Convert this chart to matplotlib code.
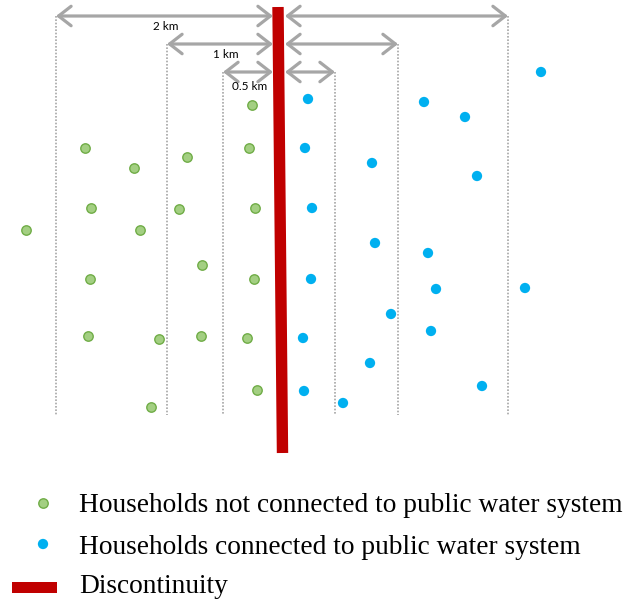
import matplotlib
matplotlib.use("Agg")
import matplotlib.pyplot as plt
from matplotlib.patches import FancyArrowPatch, Rectangle

# ---- data (schematic, in image pixel units) ----
band_labels = ["2 km", "1 km", "0.5 km"]
band_left_x = [56, 167, 223]
band_right_x = [508, 398, 335]
band_arrow_y = [16, 44, 72]
band_bottom_y = 415

cutoff_top = (278, 7)
cutoff_bottom = (282.5, 453)

green_x = [252, 85, 249, 134, 187, 91, 179, 255, 26, 140, 202, 90, 254, 88, 159, 201, 247, 257, 151]
green_y = [105, 148, 148, 168, 157, 208, 209, 208, 230, 230, 265, 279, 279, 336, 339, 336, 338, 390, 407]

blue_x = [541, 308, 424, 465, 305, 372, 477, 312, 375, 428, 311, 436, 525, 391, 431, 303, 370, 304, 482, 343]
blue_y = [72, 99, 102, 117, 148, 163, 176, 208, 243, 253, 279, 289, 288, 314, 331, 338, 363, 391, 386, 403]

legend_labels = ["Households not connected to public water system",
                 "Households connected to public water system",
                 "Discontinuity"]

GREEN_FACE = "#A3CF82"
GREEN_EDGE = "#70AD47"
BLUE = "#00B0F0"
RED = "#C00000"
GREY = "#A6A6A6"

fig = plt.figure(figsize=(6.26, 6.0), dpi=100)
ax = fig.add_axes([0, 0, 1, 1])
ax.set_xlim(0, 626)
ax.set_ylim(600, 0)
ax.axis("off")

mid_left = 273
mid_right = 285

# dotted boundaries
for xl, xr, yt in zip(band_left_x, band_right_x, band_arrow_y):
    for xv in (xl, xr):
        ax.plot([xv, xv], [yt, band_bottom_y], color=GREY, lw=1.2,
                linestyle=(0, (1, 1)), zorder=1)

# arrows
for xl, xr, yt, lab in zip(band_left_x, band_right_x, band_arrow_y, band_labels):
    for a, b in ((xl, mid_left), (mid_right, xr)):
        ar = FancyArrowPatch((a, yt), (b, yt),
                             arrowstyle="<->,head_length=0.9,head_width=0.7",
                             mutation_scale=10, color=GREY, lw=2.3,
                             shrinkA=0, shrinkB=0, zorder=2)
        ax.add_patch(ar)

label_pos = [(166, 26), (226, 55), (250, 87)]
for (tx, ty), lab in zip(label_pos, band_labels):
    ax.text(tx, ty, lab, ha="center", va="center", fontsize=8.5,
            family="Lato", color="black", zorder=3)

# points
ax.scatter(green_x, green_y, s=46, c=GREEN_FACE, edgecolors=GREEN_EDGE,
           linewidths=1.0, zorder=4)
ax.scatter(blue_x, blue_y, s=55, c=BLUE, edgecolors="none", zorder=4)

# discontinuity bar
ax.plot([cutoff_top[0], cutoff_bottom[0]], [cutoff_top[1], cutoff_bottom[1]],
        color=RED, lw=8.2, solid_capstyle="butt", zorder=5)

# legend
leg_y = [503, 544, 587.5]
leg_base = [512, 554, 593]
ax.scatter([43], [leg_y[0]], s=46, c=GREEN_FACE, edgecolors=GREEN_EDGE, linewidths=1.0)
ax.scatter([43], [leg_y[1]], s=55, c=BLUE, edgecolors="none")
ax.add_patch(Rectangle((12, leg_y[2] - 5.5), 45, 11, facecolor=RED, edgecolor="none"))
for yb, lab in zip(leg_base, legend_labels):
    ax.text(79, yb, lab, ha="left", va="baseline", fontsize=19.7,
            family="Liberation Serif", color="black")

fig.savefig("out.png", dpi=100)
